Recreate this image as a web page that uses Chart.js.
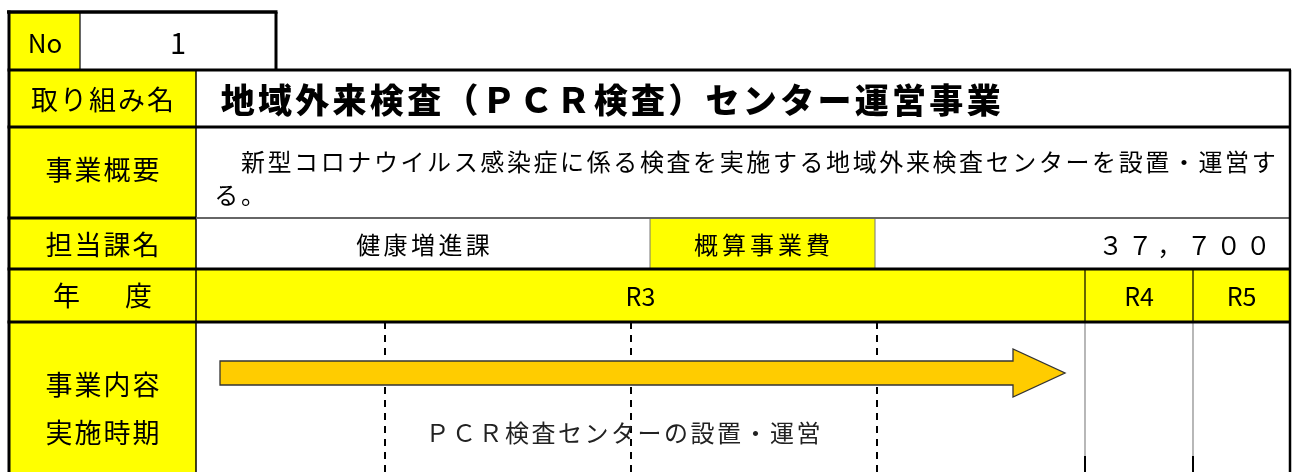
<!DOCTYPE html>
<html><head><meta charset="utf-8">
<style>html,body{margin:0;padding:0;background:#fff;overflow:hidden}#wrap{width:1292px;height:472px}</style>
<script src="https://cdn.jsdelivr.net/npm/chart.js@4/dist/chart.umd.min.js"></script>
</head><body><div id="wrap"><canvas id="c" width="1292" height="472"></canvas></div>
<script>
// ---- data ----
const projectNo = '1';
const projectName = '地域外来検査（ＰＣＲ検査）センター運営事業';
const summaryLines = ['　新型コロナウイルス感染症に係る検査を実施する地域外来検査センターを設置・運営す', 'る。'];
const department = '健康増進課';
const costLabel = '概算事業費';
const costValue = '３７，７００';
const years = ['R3', 'R4', 'R5'];
const rowLabels = ['取り組み名', '事業概要', '担当課名', '年　度', '事業内容', '実施時期'];
const taskNames = ['ＰＣＲ検査センターの設置・運営'];
const taskStart = [220];
const taskEnd = [1065];

// ---- layout (sheet units) ----
const L = {
  left: 9, right: 1290, labelRight: 196,
  rows: [12, 70, 127, 218, 269, 322, 472],
  noRight: 80, row1Right: 276,
  costLeft: 650, costRight: 875,
  yearEdges: [196, 1085, 1193, 1290],
  subLines: [385, 631, 877],
  taskLane: [373],
  lowBlack: 456
};
const FONT = '"Noto Sans CJK JP", "Noto Sans", sans-serif';
const YEL = '#FFFF00';

function spaced(ctx, text, x0, y, adv) {
  const chars = Array.from(text);
  ctx.textAlign = 'center';
  chars.forEach((ch, i) => ctx.fillText(ch, x0 + adv * i + adv / 2, y));
}
function spacedCenter(ctx, text, cx, y, adv) {
  const n = Array.from(text).length;
  spaced(ctx, text, cx - n * adv / 2, y, adv);
}

const tablePlugin = {
  id: 'table',
  beforeDatasetsDraw(chart) {
    const ctx = chart.ctx, X = v => chart.scales.x.getPixelForValue(v), Y = v => chart.scales.y.getPixelForValue(v);
    const R = L.rows;
    ctx.save();
    ctx.fillStyle = '#fff';
    ctx.fillRect(0, 0, chart.width, chart.height);
    ctx.fillStyle = YEL;
    ctx.fillRect(X(L.left), Y(R[0]), X(L.noRight) - X(L.left), Y(R[1]) - Y(R[0]));
    for (let r = 1; r < 6; r++) ctx.fillRect(X(L.left), Y(R[r]), X(L.labelRight) - X(L.left), Y(R[r + 1]) - Y(R[r]));
    ctx.fillRect(X(L.costLeft), Y(R[3]), X(L.costRight) - X(L.costLeft), Y(R[4]) - Y(R[3]));
    ctx.fillRect(X(L.left), Y(R[4]), X(L.right) - X(L.left), Y(R[5]) - Y(R[4]));

    const line = (x1, y1, x2, y2, w, c, dash) => {
      ctx.beginPath(); ctx.lineWidth = w; ctx.strokeStyle = c; ctx.setLineDash(dash || []);
      ctx.moveTo(X(x1), Y(y1)); ctx.lineTo(X(x2), Y(y2)); ctx.stroke(); ctx.setLineDash([]);
    };
    L.subLines.forEach(x => line(x, R[5], x, R[6], 2, '#000', [7, 6]));
    line(L.noRight, R[0], L.noRight, R[1], 1.2, '#000');
    line(L.labelRight, R[1], L.labelRight, R[6], 1.5, '#000');
    line(L.costLeft, R[3], L.costLeft, R[4], 1, '#777');
    line(L.costRight, R[3], L.costRight, R[4], 1, '#777');
    [L.yearEdges[1], L.yearEdges[2]].forEach(x => {
      line(x, R[4], x, R[5], 1.2, '#000');
      line(x, R[5], x, L.lowBlack, 1.2, '#888');
      line(x, L.lowBlack, x, R[6], 2, '#000');
    });
    line(L.labelRight, R[3], L.right, R[3], 2, '#666');
    ctx.restore();
  },
  afterDatasetsDraw(chart) {
    const ctx = chart.ctx, X = v => chart.scales.x.getPixelForValue(v), Y = v => chart.scales.y.getPixelForValue(v);
    const R = L.rows;
    ctx.save();
    chart.getDatasetMeta(0).data.forEach(el => {
      const p = el.getProps(['x', 'y', 'base', 'height'], true);
      const h = p.height, head = 52;
      ctx.beginPath();
      ctx.moveTo(p.base, p.y - h / 2);
      ctx.lineTo(p.x - head, p.y - h / 2);
      ctx.lineTo(p.x - head, p.y - h);
      ctx.lineTo(p.x, p.y);
      ctx.lineTo(p.x - head, p.y + h);
      ctx.lineTo(p.x - head, p.y + h / 2);
      ctx.lineTo(p.base, p.y + h / 2);
      ctx.closePath();
      ctx.fillStyle = '#FFCC00'; ctx.fill();
      ctx.lineWidth = 1.3; ctx.strokeStyle = '#333'; ctx.stroke();
    });
    const line = (x1, y1, x2, y2, w, c) => {
      ctx.beginPath(); ctx.lineWidth = w; ctx.strokeStyle = c;
      ctx.moveTo(X(x1), Y(y1)); ctx.lineTo(X(x2), Y(y2)); ctx.stroke();
    };
    line(L.left - 2, R[0], L.row1Right + 1.5, R[0], 3.5, '#000');
    line(L.row1Right, R[0], L.row1Right, R[1], 3, '#000');
    line(L.left, R[0] - 1.5, L.left, R[6], 3, '#000');
    line(L.right, R[1], L.right, R[6], 2.5, '#000');
    [1, 2, 4, 5].forEach(r => line(L.left - 1.5, R[r], L.right + 1, R[r], 3, '#000'));
    line(L.left - 1.5, R[3], L.labelRight, R[3], 3, '#000');

    ctx.fillStyle = '#000';
    ctx.textBaseline = 'middle';
    ctx.textAlign = 'center';
    ctx.font = '26px ' + FONT;
    ctx.fillText('No', X(45), Y(43));
    ctx.font = '29px ' + FONT;
    ctx.fillText(projectNo, X(178), Y(43));
    const labelCx = X((L.left + L.labelRight) / 2);
    ctx.font = '27px ' + FONT;
    const labelY = [100, 170, 245, 296, 385, 433];
    rowLabels.forEach((t, i) => spacedCenter(ctx, t, labelCx, Y(labelY[i]), i === 3 ? 36 : 29));
    ctx.font = '900 34px ' + FONT;
    spaced(ctx, projectName, X(219), Y(100), 37.3);
    ctx.font = '24px ' + FONT;
    spaced(ctx, summaryLines[0], X(213), Y(162), 26.6);
    spaced(ctx, summaryLines[1], X(213), Y(195), 26.6);
    spacedCenter(ctx, department, X(423), Y(245), 27.4);
    spacedCenter(ctx, costLabel, X(762), Y(245), 28);
    ctx.font = '25px ' + FONT;
    spaced(ctx, costValue, X(1096), Y(245), 29.5);
    ctx.textAlign = 'center';
    const ye = L.yearEdges;
    ctx.font = '25px ' + FONT;
    years.forEach((y, i) => ctx.fillText(y, X((ye[i] + ye[i + 1]) / 2), Y(296)));
    ctx.font = '24px ' + FONT;
    ctx.fillStyle = '#222';
    taskNames.forEach((t, i) => spacedCenter(ctx, t, X(623), Y(433), 26.5));
    ctx.restore();
  }
};

new Chart(document.getElementById('c'), {
  type: 'bar',
  data: {
    datasets: [{
      label: 'tasks',
      data: taskNames.map((n, i) => ({ x: [taskStart[i], taskEnd[i]], y: L.taskLane[i] })),
      backgroundColor: 'rgba(0,0,0,0)', borderWidth: 0, barThickness: 24
    }]
  },
  options: {
    indexAxis: 'y', responsive: false, animation: false, devicePixelRatio: 1,
    layout: { padding: 0 },
    plugins: { legend: { display: false }, tooltip: { enabled: false } },
    scales: {
      x: { type: 'linear', min: 0, max: 1292, display: false, offset: false },
      y: { type: 'linear', min: 0, max: 472, reverse: true, display: false, offset: false }
    }
  },
  plugins: [tablePlugin]
});
</script></body></html>
